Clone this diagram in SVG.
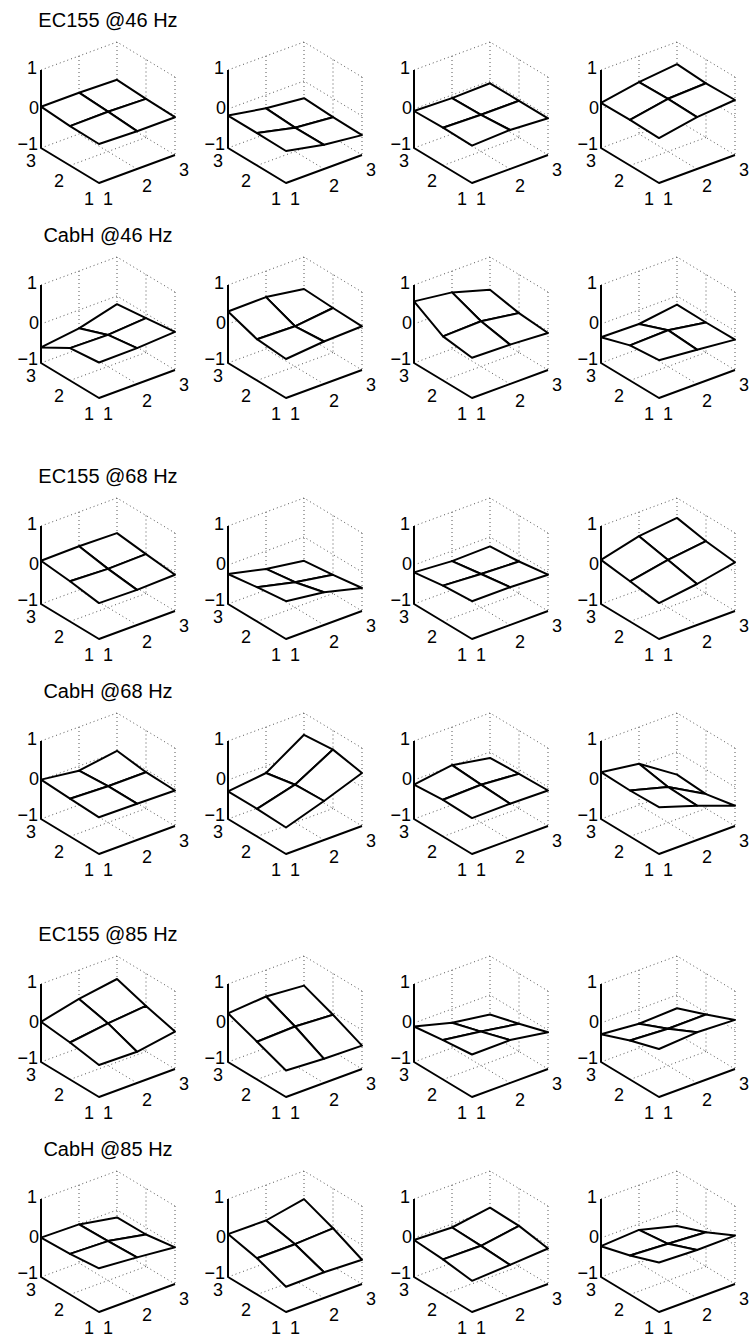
<svg xmlns="http://www.w3.org/2000/svg" xmlns:xlink="http://www.w3.org/1999/xlink" width="751" height="1336" viewBox="0 0 751 1336">
<style>
.g{fill:none;stroke:#555;stroke-width:1;stroke-dasharray:1 3}
.ax{fill:none;stroke:#000;stroke-width:2;stroke-linejoin:round}
.mesh polygon{fill:#fff;stroke:#000;stroke-width:2;stroke-linejoin:round}
.t{font-family:"Liberation Sans",Arial,Helvetica,sans-serif;font-size:18px;text-anchor:middle;fill:#000}
.e{text-anchor:end}
.ti{font-family:"Liberation Sans",Arial,Helvetica,sans-serif;font-size:20px;text-anchor:middle;fill:#000}
</style>
<defs>
<g id="grid">
<path class="g" d="M41,70 L117,42 L175,77 M41,109 L117,81 L175,116 M41,148 L117,120 L175,155 M117,42 V120 M79,56 V134 M146,59.5 V137.5 M175,77 V155 M137,169 L79,134 M70,165.5 L146,137.5"/>
</g>
<g id="axes">
<path class="ax" d="M41,70 V148 L99,183 L175,155"/>
</g>
</defs>
<rect x="0" y="0" width="751" height="1336" fill="#fff"/>

<g id="plot-r1c1" transform="translate(0,0)">
<text class="ti" x="108" y="27">EC155 @46 Hz</text>
<use xlink:href="#grid"/><use xlink:href="#axes"/>
<g class="mesh">
<polygon points="108,111.7 146,98.9 117,79.8 79,92.7"/>
<polygon points="70,126.1 108,111.7 79,92.7 41,106.7"/>
<polygon points="137,131.2 175,117.2 146,98.9 108,111.7"/>
<polygon points="99,144 137,131.2 108,111.7 70,126.1"/>
</g>
<text class="t e" x="37" y="74">1</text><text class="t e" x="39" y="114">0</text><text class="t e" x="38" y="150">−1</text><text class="t" x="31" y="167">3</text><text class="t" x="59" y="187">2</text><text class="t" x="89" y="205">1</text><text class="t" x="108" y="205">1</text><text class="t" x="147" y="192">2</text><text class="t" x="184" y="176">3</text>
</g>

<g id="plot-r1c2" transform="translate(187,0)">
<use xlink:href="#grid"/><use xlink:href="#axes"/>
<g class="mesh">
<polygon points="108,127.7 146,117.2 117,98.2 79,108.3"/>
<polygon points="70,133.1 108,127.7 79,108.3 41,115.6"/>
<polygon points="137,144.8 175,135.1 146,117.2 108,127.7"/>
<polygon points="99,151 137,144.8 108,127.7 70,133.1"/>
</g>
<text class="t e" x="37" y="74">1</text><text class="t e" x="39" y="114">0</text><text class="t e" x="38" y="150">−1</text><text class="t" x="31" y="167">3</text><text class="t" x="59" y="187">2</text><text class="t" x="89" y="205">1</text><text class="t" x="108" y="205">1</text><text class="t" x="147" y="192">2</text><text class="t" x="184" y="176">3</text>
</g>

<g id="plot-r1c3" transform="translate(373,0)">
<use xlink:href="#grid"/><use xlink:href="#axes"/>
<g class="mesh">
<polygon points="108,114.8 146,100.8 117,83.3 79,98.1"/>
<polygon points="70,127.7 108,114.8 79,98.1 41,111"/>
<polygon points="137,130 175,118.3 146,100.8 108,114.8"/>
<polygon points="99,145.6 137,130 108,114.8 70,127.7"/>
</g>
<text class="t e" x="37" y="74">1</text><text class="t e" x="39" y="114">0</text><text class="t e" x="38" y="150">−1</text><text class="t" x="31" y="167">3</text><text class="t" x="59" y="187">2</text><text class="t" x="89" y="205">1</text><text class="t" x="108" y="205">1</text><text class="t" x="147" y="192">2</text><text class="t" x="184" y="176">3</text>
</g>

<g id="plot-r1c4" transform="translate(560,0)">
<use xlink:href="#grid"/><use xlink:href="#axes"/>
<g class="mesh">
<polygon points="108,98.8 146,83.3 117,64.2 79,82.1"/>
<polygon points="70,119.9 108,98.8 79,82.1 41,102.8"/>
<polygon points="137,117.1 175,100 146,83.3 108,98.8"/>
<polygon points="99,138.1 137,117.1 108,98.8 70,119.9"/>
</g>
<text class="t e" x="37" y="74">1</text><text class="t e" x="39" y="114">0</text><text class="t e" x="38" y="150">−1</text><text class="t" x="31" y="167">3</text><text class="t" x="59" y="187">2</text><text class="t" x="89" y="205">1</text><text class="t" x="108" y="205">1</text><text class="t" x="147" y="192">2</text><text class="t" x="184" y="176">3</text>
</g>

<g id="plot-r2c1" transform="translate(0,215)">
<text class="ti" x="108" y="27">CabH @46 Hz</text>
<use xlink:href="#grid"/><use xlink:href="#axes"/>
<g class="mesh">
<polygon points="108,119.9 146,103.2 117,89.2 79,113.3"/>
<polygon points="70,133.1 108,119.9 79,113.3 41,132.4"/>
<polygon points="137,133.1 175,116.8 146,103.2 108,119.9"/>
<polygon points="99,147.5 137,133.1 108,119.9 70,133.1"/>
</g>
<text class="t e" x="37" y="74">1</text><text class="t e" x="39" y="114">0</text><text class="t e" x="38" y="150">−1</text><text class="t" x="31" y="167">3</text><text class="t" x="59" y="187">2</text><text class="t" x="89" y="205">1</text><text class="t" x="108" y="205">1</text><text class="t" x="147" y="192">2</text><text class="t" x="184" y="176">3</text>
</g>

<g id="plot-r2c2" transform="translate(187,215)">
<use xlink:href="#grid"/><use xlink:href="#axes"/>
<g class="mesh">
<polygon points="108,111.3 146,93 117,74 79,82.1"/>
<polygon points="70,124.2 108,111.3 79,82.1 41,96.5"/>
<polygon points="137,126.5 175,111.3 146,93 108,111.3"/>
<polygon points="99,144 137,126.5 108,111.3 70,124.2"/>
</g>
<text class="t e" x="37" y="74">1</text><text class="t e" x="39" y="114">0</text><text class="t e" x="38" y="150">−1</text><text class="t" x="31" y="167">3</text><text class="t" x="59" y="187">2</text><text class="t" x="89" y="205">1</text><text class="t" x="108" y="205">1</text><text class="t" x="147" y="192">2</text><text class="t" x="184" y="176">3</text>
</g>

<g id="plot-r2c3" transform="translate(373,215)">
<use xlink:href="#grid"/><use xlink:href="#axes"/>
<g class="mesh">
<polygon points="108,106.3 146,98.1 117,74.8 79,77.4"/>
<polygon points="70,121.4 108,106.3 79,77.4 41,86.4"/>
<polygon points="137,129.6 175,118 146,98.1 108,106.3"/>
<polygon points="99,142.8 137,129.6 108,106.3 70,121.4"/>
</g>
<text class="t e" x="37" y="74">1</text><text class="t e" x="39" y="114">0</text><text class="t e" x="38" y="150">−1</text><text class="t" x="31" y="167">3</text><text class="t" x="59" y="187">2</text><text class="t" x="89" y="205">1</text><text class="t" x="108" y="205">1</text><text class="t" x="147" y="192">2</text><text class="t" x="184" y="176">3</text>
</g>

<g id="plot-r2c4" transform="translate(560,215)">
<use xlink:href="#grid"/><use xlink:href="#axes"/>
<g class="mesh">
<polygon points="108,115.2 146,107.5 117,89.6 79,109"/>
<polygon points="70,130.4 108,115.2 79,109 41,122.3"/>
<polygon points="137,134.7 175,124.6 146,107.5 108,115.2"/>
<polygon points="99,145.2 137,134.7 108,115.2 70,130.4"/>
</g>
<text class="t e" x="37" y="74">1</text><text class="t e" x="39" y="114">0</text><text class="t e" x="38" y="150">−1</text><text class="t" x="31" y="167">3</text><text class="t" x="59" y="187">2</text><text class="t" x="89" y="205">1</text><text class="t" x="108" y="205">1</text><text class="t" x="147" y="192">2</text><text class="t" x="184" y="176">3</text>
</g>

<g id="plot-r3c1" transform="translate(0,456)">
<text class="ti" x="108" y="27">EC155 @68 Hz</text>
<use xlink:href="#grid"/><use xlink:href="#axes"/>
<g class="mesh">
<polygon points="108,112.9 146,98.1 117,77.1 79,90.3"/>
<polygon points="70,125.3 108,112.9 79,90.3 41,104.7"/>
<polygon points="137,133.9 175,118.7 146,98.1 108,112.9"/>
<polygon points="99,147.1 137,133.9 108,112.9 70,125.3"/>
</g>
<text class="t e" x="37" y="74">1</text><text class="t e" x="39" y="114">0</text><text class="t e" x="38" y="150">−1</text><text class="t" x="31" y="167">3</text><text class="t" x="59" y="187">2</text><text class="t" x="89" y="205">1</text><text class="t" x="108" y="205">1</text><text class="t" x="147" y="192">2</text><text class="t" x="184" y="176">3</text>
</g>

<g id="plot-r3c2" transform="translate(187,456)">
<use xlink:href="#grid"/><use xlink:href="#axes"/>
<g class="mesh">
<polygon points="108,126.2 146,118.8 117,104.8 79,112.9"/>
<polygon points="70,131.2 108,126.2 79,112.9 41,118"/>
<polygon points="137,136.2 175,132 146,118.8 108,126.2"/>
<polygon points="99,145.2 137,136.2 108,126.2 70,131.2"/>
</g>
<text class="t e" x="37" y="74">1</text><text class="t e" x="39" y="114">0</text><text class="t e" x="38" y="150">−1</text><text class="t" x="31" y="167">3</text><text class="t" x="59" y="187">2</text><text class="t" x="89" y="205">1</text><text class="t" x="108" y="205">1</text><text class="t" x="147" y="192">2</text><text class="t" x="184" y="176">3</text>
</g>

<g id="plot-r3c3" transform="translate(373,456)">
<use xlink:href="#grid"/><use xlink:href="#axes"/>
<g class="mesh">
<polygon points="108,118 146,105.5 117,90.4 79,105.1"/>
<polygon points="70,129.6 108,118 79,105.1 41,116.4"/>
<polygon points="137,131.2 175,118.7 146,105.5 108,118"/>
<polygon points="99,145.2 137,131.2 108,118 70,129.6"/>
</g>
<text class="t e" x="37" y="74">1</text><text class="t e" x="39" y="114">0</text><text class="t e" x="38" y="150">−1</text><text class="t" x="31" y="167">3</text><text class="t" x="59" y="187">2</text><text class="t" x="89" y="205">1</text><text class="t" x="108" y="205">1</text><text class="t" x="147" y="192">2</text><text class="t" x="184" y="176">3</text>
</g>

<g id="plot-r3c4" transform="translate(560,456)">
<use xlink:href="#grid"/><use xlink:href="#axes"/>
<g class="mesh">
<polygon points="108,103.9 146,85.2 117,61.9 79,80.2"/>
<polygon points="70,125.3 108,103.9 79,80.2 41,103.9"/>
<polygon points="137,128 175,106.3 146,85.2 108,103.9"/>
<polygon points="99,147.1 137,128 108,103.9 70,125.3"/>
</g>
<text class="t e" x="37" y="74">1</text><text class="t e" x="39" y="114">0</text><text class="t e" x="38" y="150">−1</text><text class="t" x="31" y="167">3</text><text class="t" x="59" y="187">2</text><text class="t" x="89" y="205">1</text><text class="t" x="108" y="205">1</text><text class="t" x="147" y="192">2</text><text class="t" x="184" y="176">3</text>
</g>

<g id="plot-r4c1" transform="translate(0,671)">
<text class="ti" x="108" y="27">CabH @68 Hz</text>
<use xlink:href="#grid"/><use xlink:href="#axes"/>
<g class="mesh">
<polygon points="108,115.2 146,101.2 117,79.8 79,99.7"/>
<polygon points="70,127.7 108,115.2 79,99.7 41,108.6"/>
<polygon points="137,132.7 175,119.5 146,101.2 108,115.2"/>
<polygon points="99,146.3 137,132.7 108,115.2 70,127.7"/>
</g>
<text class="t e" x="37" y="74">1</text><text class="t e" x="39" y="114">0</text><text class="t e" x="38" y="150">−1</text><text class="t" x="31" y="167">3</text><text class="t" x="59" y="187">2</text><text class="t" x="89" y="205">1</text><text class="t" x="108" y="205">1</text><text class="t" x="147" y="192">2</text><text class="t" x="184" y="176">3</text>
</g>

<g id="plot-r4c2" transform="translate(187,671)">
<use xlink:href="#grid"/><use xlink:href="#axes"/>
<g class="mesh">
<polygon points="108,113.7 146,78.6 117,63.8 79,102"/>
<polygon points="70,137.8 108,113.7 79,102 41,120.3"/>
<polygon points="137,130 175,102 146,78.6 108,113.7"/>
<polygon points="99,156.5 137,130 108,113.7 70,137.8"/>
</g>
<text class="t e" x="37" y="74">1</text><text class="t e" x="39" y="114">0</text><text class="t e" x="38" y="150">−1</text><text class="t" x="31" y="167">3</text><text class="t" x="59" y="187">2</text><text class="t" x="89" y="205">1</text><text class="t" x="108" y="205">1</text><text class="t" x="147" y="192">2</text><text class="t" x="184" y="176">3</text>
</g>

<g id="plot-r4c3" transform="translate(373,671)">
<use xlink:href="#grid"/><use xlink:href="#axes"/>
<g class="mesh">
<polygon points="108,113.7 146,102.8 117,86.9 79,94.2"/>
<polygon points="70,128.8 108,113.7 79,94.2 41,113.7"/>
<polygon points="137,132.7 175,119.5 146,102.8 108,113.7"/>
<polygon points="99,147.1 137,132.7 108,113.7 70,128.8"/>
</g>
<text class="t e" x="37" y="74">1</text><text class="t e" x="39" y="114">0</text><text class="t e" x="38" y="150">−1</text><text class="t" x="31" y="167">3</text><text class="t" x="59" y="187">2</text><text class="t" x="89" y="205">1</text><text class="t" x="108" y="205">1</text><text class="t" x="147" y="192">2</text><text class="t" x="184" y="176">3</text>
</g>

<g id="plot-r4c4" transform="translate(560,671)">
<use xlink:href="#grid"/><use xlink:href="#axes"/>
<g class="mesh">
<polygon points="108,116 146,123.1 117,103.6 79,92.7"/>
<polygon points="70,119.5 108,116 79,92.7 41,101.2"/>
<polygon points="137,134.7 175,134.7 146,123.1 108,116"/>
<polygon points="99,136.2 137,134.7 108,116 70,119.5"/>
</g>
<text class="t e" x="37" y="74">1</text><text class="t e" x="39" y="114">0</text><text class="t e" x="38" y="150">−1</text><text class="t" x="31" y="167">3</text><text class="t" x="59" y="187">2</text><text class="t" x="89" y="205">1</text><text class="t" x="108" y="205">1</text><text class="t" x="147" y="192">2</text><text class="t" x="184" y="176">3</text>
</g>

<g id="plot-r5c1" transform="translate(0,914)">
<text class="ti" x="108" y="27">EC155 @85 Hz</text>
<use xlink:href="#grid"/><use xlink:href="#axes"/>
<g class="mesh">
<polygon points="108,109.4 146,91.9 117,65 79,84.9"/>
<polygon points="70,128.5 108,109.4 79,84.9 41,107.8"/>
<polygon points="137,137.8 175,117.6 146,91.9 108,109.4"/>
<polygon points="99,151 137,137.8 108,109.4 70,128.5"/>
</g>
<text class="t e" x="37" y="74">1</text><text class="t e" x="39" y="114">0</text><text class="t e" x="38" y="150">−1</text><text class="t" x="31" y="167">3</text><text class="t" x="59" y="187">2</text><text class="t" x="89" y="205">1</text><text class="t" x="108" y="205">1</text><text class="t" x="147" y="192">2</text><text class="t" x="184" y="176">3</text>
</g>

<g id="plot-r5c2" transform="translate(187,914)">
<use xlink:href="#grid"/><use xlink:href="#axes"/>
<g class="mesh">
<polygon points="108,112.5 146,100.8 117,71.6 79,82.5"/>
<polygon points="70,127.7 108,112.5 79,82.5 41,99.3"/>
<polygon points="137,144.8 175,131.6 146,100.8 108,112.5"/>
<polygon points="99,156.5 137,144.8 108,112.5 70,127.7"/>
</g>
<text class="t e" x="37" y="74">1</text><text class="t e" x="39" y="114">0</text><text class="t e" x="38" y="150">−1</text><text class="t" x="31" y="167">3</text><text class="t" x="59" y="187">2</text><text class="t" x="89" y="205">1</text><text class="t" x="108" y="205">1</text><text class="t" x="147" y="192">2</text><text class="t" x="184" y="176">3</text>
</g>

<g id="plot-r5c3" transform="translate(373,914)">
<use xlink:href="#grid"/><use xlink:href="#axes"/>
<g class="mesh">
<polygon points="108,117.6 146,109.8 117,100.5 79,108.7"/>
<polygon points="70,126.1 108,117.6 79,108.7 41,112.5"/>
<polygon points="137,126.1 175,118.3 146,109.8 108,117.6"/>
<polygon points="99,140.5 137,126.1 108,117.6 70,126.1"/>
</g>
<text class="t e" x="37" y="74">1</text><text class="t e" x="39" y="114">0</text><text class="t e" x="38" y="150">−1</text><text class="t" x="31" y="167">3</text><text class="t" x="59" y="187">2</text><text class="t" x="89" y="205">1</text><text class="t" x="108" y="205">1</text><text class="t" x="147" y="192">2</text><text class="t" x="184" y="176">3</text>
</g>

<g id="plot-r5c4" transform="translate(560,914)">
<use xlink:href="#grid"/><use xlink:href="#axes"/>
<g class="mesh">
<polygon points="108,114.8 146,100.5 117,94.3 79,109.8"/>
<polygon points="70,126.5 108,114.8 79,109.8 41,120.3"/>
<polygon points="137,118.3 175,105.9 146,100.5 108,114.8"/>
<polygon points="99,135 137,118.3 108,114.8 70,126.5"/>
</g>
<text class="t e" x="37" y="74">1</text><text class="t e" x="39" y="114">0</text><text class="t e" x="38" y="150">−1</text><text class="t" x="31" y="167">3</text><text class="t" x="59" y="187">2</text><text class="t" x="89" y="205">1</text><text class="t" x="108" y="205">1</text><text class="t" x="147" y="192">2</text><text class="t" x="184" y="176">3</text>
</g>

<g id="plot-r6c1" transform="translate(0,1129)">
<text class="ti" x="108" y="27">CabH @85 Hz</text>
<use xlink:href="#grid"/><use xlink:href="#axes"/>
<g class="mesh">
<polygon points="108,112.1 146,105.5 117,88.4 79,95.4"/>
<polygon points="70,124.9 108,112.1 79,95.4 41,108.6"/>
<polygon points="137,128.4 175,118.3 146,105.5 108,112.1"/>
<polygon points="99,139.3 137,128.4 108,112.1 70,124.9"/>
</g>
<text class="t e" x="37" y="74">1</text><text class="t e" x="39" y="114">0</text><text class="t e" x="38" y="150">−1</text><text class="t" x="31" y="167">3</text><text class="t" x="59" y="187">2</text><text class="t" x="89" y="205">1</text><text class="t" x="108" y="205">1</text><text class="t" x="147" y="192">2</text><text class="t" x="184" y="176">3</text>
</g>

<g id="plot-r6c2" transform="translate(187,1129)">
<use xlink:href="#grid"/><use xlink:href="#axes"/>
<g class="mesh">
<polygon points="108,115.2 146,99.3 117,70.1 79,91.5"/>
<polygon points="70,129.2 108,115.2 79,91.5 41,105.1"/>
<polygon points="137,143.3 175,130.8 146,99.3 108,115.2"/>
<polygon points="99,157.7 137,143.3 108,115.2 70,129.2"/>
</g>
<text class="t e" x="37" y="74">1</text><text class="t e" x="39" y="114">0</text><text class="t e" x="38" y="150">−1</text><text class="t" x="31" y="167">3</text><text class="t" x="59" y="187">2</text><text class="t" x="89" y="205">1</text><text class="t" x="108" y="205">1</text><text class="t" x="147" y="192">2</text><text class="t" x="184" y="176">3</text>
</g>

<g id="plot-r6c3" transform="translate(373,1129)">
<use xlink:href="#grid"/><use xlink:href="#axes"/>
<g class="mesh">
<polygon points="108,116.8 146,96.9 117,78.7 79,98.5"/>
<polygon points="70,130.4 108,116.8 79,98.5 41,111"/>
<polygon points="137,135.9 175,119.5 146,96.9 108,116.8"/>
<polygon points="99,151.8 137,135.9 108,116.8 70,130.4"/>
</g>
<text class="t e" x="37" y="74">1</text><text class="t e" x="39" y="114">0</text><text class="t e" x="38" y="150">−1</text><text class="t" x="31" y="167">3</text><text class="t" x="59" y="187">2</text><text class="t" x="89" y="205">1</text><text class="t" x="108" y="205">1</text><text class="t" x="147" y="192">2</text><text class="t" x="184" y="176">3</text>
</g>

<g id="plot-r6c4" transform="translate(560,1129)">
<use xlink:href="#grid"/><use xlink:href="#axes"/>
<g class="mesh">
<polygon points="108,114.8 146,103.2 117,97 79,100.9"/>
<polygon points="70,126.5 108,114.8 79,100.9 41,117.2"/>
<polygon points="137,121 175,106.6 146,103.2 108,114.8"/>
<polygon points="99,133.5 137,121 108,114.8 70,126.5"/>
</g>
<text class="t e" x="37" y="74">1</text><text class="t e" x="39" y="114">0</text><text class="t e" x="38" y="150">−1</text><text class="t" x="31" y="167">3</text><text class="t" x="59" y="187">2</text><text class="t" x="89" y="205">1</text><text class="t" x="108" y="205">1</text><text class="t" x="147" y="192">2</text><text class="t" x="184" y="176">3</text>
</g>
</svg>
